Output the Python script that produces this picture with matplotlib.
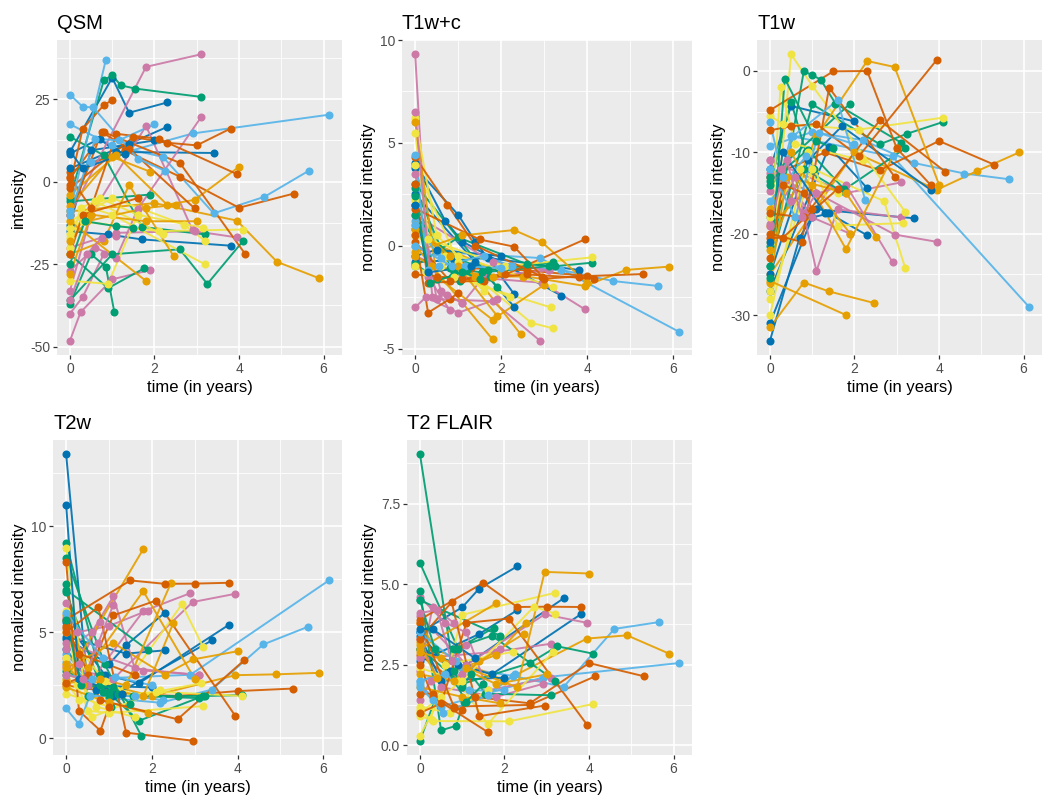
"""Longitudinal lesion intensity per subject, one panel per MRI contrast.

Writes out.png (ggplot-like grey theme, Okabe-Ito colours).
"""

import matplotlib

matplotlib.use("Agg")
import matplotlib.pyplot as plt

plt.rcParams["font.family"] = ["Liberation Sans", "DejaVu Sans"]
plt.rcParams["axes.unicode_minus"] = False

PALETTE = ["#E69F00", "#56B4E9", "#009E73", "#F0E442",
           "#0072B2", "#D55E00", "#CC79A7"]

# one entry per subject: palette index and scan times (years)
SUBJECT_COLOR = [1, 1, 0, 5, 4, 4, 4, 4, 4, 6, 6, 6, 6, 6, 6,
                 2, 2, 2, 2, 2, 2, 3, 3, 3, 3, 3, 3, 0, 0, 0,
                 0, 0, 0, 5, 5, 5, 5, 5, 5, 1, 1, 1, 4, 2, 6]

TIMES = [
    [0, 0.5, 2.9, 6.13], [0, 1.0, 2.2, 3.4, 4.6, 5.65], [0, 2.0, 3.95, 4.9, 5.9],
    [0, 1.3, 2.6, 4.0, 5.3], [0, 1.0, 1.4, 2.3], [0, 1.4, 2.3],
    [0, 0.9, 1.7, 3.8], [0, 0.7, 1.1, 3.4], [0, 0.5, 2.0],
    [0, 1.8, 3.1], [0, 1.1, 2.95, 3.95], [0, 0.25, 1.0, 1.9],
    [0, 0.6, 1.1, 1.6, 3.1], [0, 0.3, 0.8], [0, 0.5, 1.8, 2.9],
    [0, 0.8, 1.0, 1.2, 1.55, 3.1], [0, 1.0, 2.6, 3.25, 4.1], [0, 0.9, 1.75],
    [0, 0.5, 0.85, 1.05], [0, 1.9], [0, 0.8, 1.7, 3.2],
    [0, 0.5, 1.0, 3.2], [0, 1.0, 2.7, 3.2], [0, 0.3, 2.1, 4.1],
    [0, 0.9, 1.6, 3.15], [0, 0.25, 0.6, 2.2], [0, 0.7, 1.6],
    [0, 1.8], [0, 0.8, 1.4, 2.45], [0, 1.1, 2.3, 2.95, 4.0],
    [0, 0.5, 1.8, 3.0], [0, 1.0, 1.9], [0, 0.4, 1.8, 2.5],
    [0, 0.8, 2.6, 4.15], [0, 1.5, 2.3, 3.0, 3.8], [0, 0.3, 0.8, 1.0],
    [0, 0.75, 1.4, 2.95], [0, 0.5, 1.1, 2.1, 3.95], [0, 0.3, 1.6],
    [0, 0.3, 0.55, 1.6, 2.25], [0, 0.85], [0, 0.6, 1.15, 2.0],
    [0, 0.3, 1.3], [0, 0.35, 1.1, 1.5], [0, 0.4, 0.75, 1.1],
]

QSM = [
    [-8.5, 6, 14.6, 20.3], [17.4, 11, 7.5, -9.6, -4.6, 3.3], [-9, -6.5, -11.8, -24.3, -29.3],
    [3, 9.5, 1.5, -7.9, -3.6], [9, 31.5, 20.9, 24.0], [4, 11.5, 16.6],
    [-15, -16, -17.5, -19.4], [8.5, 13, 9, 8.7], [-13, 9.5, 12.5],
    [-10, 34.8, 38.6], [-20, -15.5, -15, -16.9], [-48.2, -39.6, -29.6, -26.8],
    [-27, -20, -23.0, -8.4, 19.5], [-40, -35, -22], [-33, -10, 16.9, -14.7],
    [-5, 30.7, 32.3, 29.2, 28.2, 25.7], [-36, -22, -20.5, -31.0, -17.9], [-22, -32.3, -26.3],
    [-37, -22, -25.8, -39.6], [-6, -3.9], [13.6, 8, -13.7, -16],
    [-16, -8, -10, -25.1], [-12, -5, -13, -18], [-17, -12, -15, -14.5],
    [-30, -31, -10, -14], [-20, -8, -6, -16], [-14, -5, -10],
    [-12, -30.1], [-22, -18, -1, -22.5], [-4, 8, -7, -5.5, 4.5],
    [-28, -10, -12, -12], [-7.5, 7.5, 3], [-18, -12, -8, -7],
    [1, 15, 5.7, -22.0], [-2, 13.5, 11.8, 11, 16.1], [-1, 16, 23.2, 24.7],
    [-10, 15, 10, -8.1], [1.5, -8, 14.5, 13, 2.3], [-22, -10, -5],
    [26.4, 22.7, 22.5, 7, 3.3], [-9, 37.0], [-10, 13, 12.5, 17.4],
    [9.2, 4, 8.5], [-25, -12, -13.5, -14], [-36, -22, -17, -16.5],
]

T1W_C = [
    [3.9, -0.3, -0.6, -4.18], [1.2, -1.0, -1.0, -1.18, -1.72, -1.96], [0.5, -1.3, -1.96, -1.18, -1.02],
    [0.8, -1.1, -1.2, -1.48, -1.38], [3.8, 1.5, 0.2, -2.35], [2.5, -0.8, -2.97],
    [-0.8, -0.7, -0.6, -1.18], [4.0, 1.2, 0.2, -2.43], [-0.5, -0.2, -0.5],
    [1.5, -0.8, -1.2], [-0.5, -1.5, -1.8, -3.10], [-3.0, -2.5, -3.26, -2.6],
    [2.0, -2.2, -2.8, -1.5, -1.2], [9.3, -1.5, -3.13], [3.5, -2.6, -2.7, -4.62],
    [2.8, -1.1, -1.0, -1.2, -1.3, -1.0], [-1.0, 0.4, -0.9, -1.0, -0.83], [2.0, -1.3, -1.5],
    [-0.9, -1.6, -1.5, -1.7], [3.0, -2.0], [1.5, -0.5, -1.2, -0.8],
    [6.2, 0.5, -0.5, -2.0], [3.9, -0.8, -3.75, -4.02], [5.5, 0.3, -1.0, -0.57],
    [2.2, -1.5, -2.0, -3.0], [-1.0, -1.3, -1.0, -2.5], [0.5, -0.5, -2.2],
    [0.0, -4.56], [1.0, -0.5, -1.5, -4.30], [-0.3, 0.5, 0.76, 0.16, -1.8],
    [6.0, -1.5, -3.6, -1.9], [0.8, -1.0, -3.4], [-0.5, -1.0, -1.5, -1.5],
    [0.2, -1.7, -1.4, -1.6], [1.8, 0.3, -0.05, -1.6, -1.5], [0.5, -3.26, -2.6, -2.3],
    [4.3, 2.0, 0.0, -1.5], [-1.4, -1.5, -1.6, -1.4, 0.31], [3.0, -1.8, -1.7],
    [4.4, -1.2, -1.0, -0.5, -1.0], [0.0, -1.0], [1.0, -0.6, -1.0, -1.1],
    [2.0, -1.3, -1.0], [2.4, -1.8, -1.3, -1.6], [6.5, -2.5, -2.4, -2.8],
]

T1W = [
    [-18, -8, -10.5, -29.0], [-9.2, -7.5, -8.5, -11.3, -12.6, -13.3], [-25, -10, -14.6, -12.3, -10.0],
    [-13, -10, -12.2, -8.6, -11.5], [-31, -18, -17.5, -20.2], [-27, -9.3, -14.4],
    [-25, -11, -6.8, -14.6], [-33.15, -20.5, -17.0, -18.1], [-12, -4.3, -6.2],
    [-11, -15, -13.7], [-13, -15, -20.1, -21.0], [-14.7, -12, -18, -20.0],
    [-18.8, -13, -24.6, -17, -18], [-12.5, -14, -17.5], [-11, -16, -14, -23.5],
    [-24, -0.04, -0.5, -1.06, -4.0, -8.8], [-24, -4.1, -9, -7.7, -6.26], [-13.5, -9.7, -14.5],
    [-14, -3.8, -10, -12], [-13, -4.0], [-21.5, -12, -14.8, -9.5],
    [-27, 2.05, -1.8, -17.3], [-28, -12, -16, -24.2], [-5.5, -6.5, -7.2, -5.73],
    [-30, -10, -19, -18.7], [-21, -2, -9, -11], [-18, -12, -15],
    [-25.8, -30.0], [-31.5, -26.0, -27.1, -28.5], [-22, -8, 1.23, 0.49, -13.96],
    [-17, -10, -21.9, -9.5], [-19, -14, -20], [-26, -13, -15, -20.4],
    [-17.5, -18, -6.06, -12.4], [-4.83, -0.04, 0.0, -9.5, -14.0], [-23, -14, -15, -17],
    [-20, -21, -2.05, -13], [-7.29, -6.8, -6.5, -10.5, 1.39], [-20.5, -20.5, -14.5],
    [-6.3, -13, -8, -3.6, -15.8], [-16, -10.5], [-12, -18, -7.6, -9],
    [-21, -10, -17.5], [-25.5, -0.94, -8.6, -9.5], [-19, -11, -17.9, -15],
]

T2W = [
    [4.0, 2.8, 3.0, 7.45], [3.6, 1.9, 1.68, 2.3, 4.43, 5.27], [3.0, 2.0, 2.98, 3.02, 3.09],
    [2.5, 2.1, 2.0, 2.23, 2.35], [4.7, 3.5, 4.4, 5.92], [4.8, 4.0, 4.15],
    [5.5, 3.0, 2.6, 5.36], [4.2, 2.3, 2.0, 4.62], [13.4, 2.5, 2.4],
    [4.5, 3.2, 3.0], [3.4, 2.8, 6.43, 6.82], [6.4, 5.0, 5.3, 6.03],
    [4.2, 5.0, 6.7, 3.3, 2.98], [5.7, 3.5, 5.5], [3.8, 2.5, 6.0, 6.85],
    [9.2, 3.0, 2.2, 2.1, 2.0, 1.9], [3.2, 2.0, 2.0, 2.0, 2.04], [8.5, 3.5, 0.13],
    [7.3, 2.0, 2.2, 1.5], [7.0, 4.18], [6.9, 2.5, 0.83, 2.0],
    [9.0, 1.3, 1.2, 1.52], [2.1, 1.5, 6.32, 4.3], [2.7, 1.8, 2.2, 2.0],
    [5.0, 2.7, 2.0, 2.6], [6.0, 2.5, 1.0, 2.3], [3.8, 1.5, 1.0],
    [2.8, 8.93], [2.6, 2.8, 2.5, 7.35], [3.3, 4.5, 3.0, 3.72, 4.11],
    [5.8, 3.3, 6.94, 2.8], [2.4, 1.7, 1.2], [3.5, 2.5, 2.0, 5.44],
    [5.3, 1.8, 0.9, 3.68], [5.6, 7.45, 7.29, 7.3, 7.34], [8.3, 1.3, 0.36, 1.5],
    [5.0, 6.2, 0.27, -0.11], [2.6, 3.0, 5.8, 6.5, 1.05], [5.2, 4.0, 3.0],
    [1.41, 0.67, 2.0, 2.0, 1.8], [5.9, 3.8], [3.0, 2.8, 2.9, 2.5],
    [11.02, 2.8, 2.1], [5.6, 2.5, 2.4, 1.6], [3.0, 2.8, 4.5, 6.3],
]

FLAIR = [
    [1.9, 1.2, 2.1, 2.55], [2.0, 2.4, 2.15, 1.81, 3.61, 3.82], [3.2, 2.0, 3.31, 3.41, 2.84],
    [2.8, 1.5, 1.3, 2.55, 2.14], [3.5, 4.28, 4.86, 5.55], [2.6, 3.45, 4.19],
    [3.0, 2.5, 2.2, 4.06], [3.5, 2.3, 2.5, 4.56], [3.4, 2.0, 2.1],
    [2.7, 2.9, 3.15], [4.0, 2.5, 4.06, 3.80], [1.4, 2.0, 2.2, 3.0],
    [4.6, 3.8, 3.5, 1.7, 2.1], [2.3, 4.3, 3.8], [3.3, 1.8, 1.5, 1.9],
    [9.03, 2.3, 1.8, 2.2, 1.6, 1.55], [3.0, 1.9, 2.55, 3.07, 2.84], [5.66, 3.0, 3.65],
    [4.8, 0.46, 0.60, 1.35], [4.5, 3.4], [0.14, 3.0, 3.4, 2.0],
    [0.3, 1.5, 4.05, 4.73], [1.0, 2.0, 4.3, 4.08], [1.1, 0.75, 0.74, 1.28],
    [2.4, 2.0, 0.65, 2.9], [0.9, 0.8, 2.5, 2.9], [1.2, 1.0, 1.7],
    [3.0, 4.40], [2.2, 2.0, 2.6, 3.45], [2.9, 2.4, 1.8, 5.38, 5.33],
    [3.8, 2.7, 1.9, 2.2], [1.8, 1.5, 1.3], [3.1, 2.1, 2.8, 3.8],
    [3.8, 1.2, 1.25, 2.14], [3.9, 5.04, 4.29, 4.3, 4.29], [1.6, 1.6, 1.15, 1.1],
    [3.3, 4.44, 0.9, 1.23], [1.0, 1.3, 3.8, 3.93, 0.64], [2.5, 1.5, 0.41],
    [1.8, 1.4, 1.0, 1.55, 2.2], [3.5, 2.6], [2.0, 2.2, 1.7, 1.7],
    [3.6, 3.6, 2.7], [4.5, 3.0, 1.35, 1.9], [4.1, 4.2, 2.6, 3.1],
]

X_TICKS = [0, 2, 4, 6]
X_MINOR = [1, 3, 5]


def expand(lo, hi, frac=0.05):
    pad = (hi - lo) * frac
    return lo - pad, hi + pad


def draw_panel(ax, values, title, ylabel, yticks, yminor, fmt):
    ax.set_facecolor("#EBEBEB")
    for sp in ax.spines.values():
        sp.set_visible(False)

    # lines first, then all the points on top (geom_line + geom_point)
    for t, v, c in zip(TIMES, values, SUBJECT_COLOR, strict=True):
        ax.plot(t, v, color=PALETTE[c], lw=1.4, alpha=0.92, zorder=2,
                solid_capstyle="round")
    for t, v, c in zip(TIMES, values, SUBJECT_COLOR, strict=True):
        ax.plot(t, v, "o", color=PALETTE[c], ms=5.8, mew=0, zorder=3)

    all_t = [x for row in TIMES for x in row]
    all_v = [y for row in values for y in row]
    ax.set_xlim(*expand(min(all_t), max(all_t)))
    ax.set_ylim(*expand(min(all_v), max(all_v)))

    ax.set_xticks(X_TICKS)
    ax.set_xticks(X_MINOR, minor=True)
    ax.set_yticks(yticks, [fmt.format(y) for y in yticks])
    ax.set_yticks(yminor, minor=True)
    ax.set_axisbelow(True)
    ax.grid(which="major", color="white", lw=1.2)
    ax.grid(which="minor", color="white", lw=0.6)
    ax.tick_params(which="major", length=3, width=0.9, color="#333333",
                   labelcolor="#4D4D4D", labelsize=10, pad=2)
    ax.tick_params(which="minor", length=0)

    ax.set_title(title, loc="left", fontsize=14.5, pad=8, color="black")
    ax.set_xlabel("time (in years)", fontsize=12, labelpad=3)
    ax.set_ylabel(ylabel, fontsize=12, labelpad=3)


def main() -> None:
    fig = plt.figure(figsize=(10.5, 8.05), dpi=100)
    W, H = 1050, 805

    def rect(left, right, top, bottom):
        return [left / W, 1 - bottom / H, (right - left) / W, (bottom - top) / H]

    panels = [
        (rect(57, 342, 40, 355), QSM, "QSM", "intensity",
         [-50, -25, 0, 25], [-37.5, -12.5, 12.5, 37.5], "{:g}"),
        (rect(402, 692, 40, 355), T1W_C, "T1w+c", "normalized intensity",
         [-5, 0, 5, 10], [-2.5, 2.5, 7.5], "{:g}"),
        (rect(757, 1042, 40, 355), T1W, "T1w", "normalized intensity",
         [-30, -20, -10, 0], [-25, -15, -5], "{:g}"),
        (rect(53, 342, 440, 755), T2W, "T2w", "normalized intensity",
         [0, 5, 10], [2.5, 7.5, 12.5], "{:g}"),
        (rect(407, 692, 440, 755), FLAIR, "T2 FLAIR", "normalized intensity",
         [0, 2.5, 5, 7.5], [1.25, 3.75, 6.25, 8.75], "{:.1f}"),
    ]
    for box, values, title, ylabel, yticks, yminor, fmt in panels:
        ax = fig.add_axes(box)
        draw_panel(ax, values, title, ylabel, yticks, yminor, fmt)

    fig.savefig("out.png", dpi=100, facecolor="white")


if __name__ == "__main__":
    main()
